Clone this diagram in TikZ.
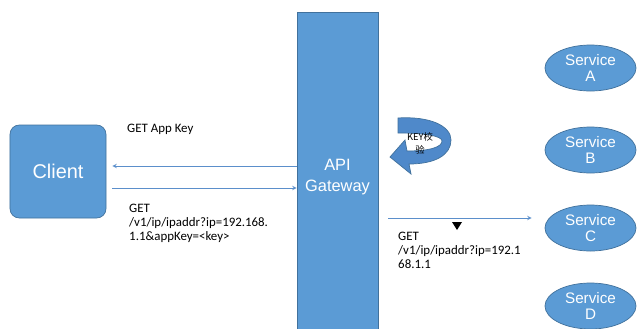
\documentclass[tikz,border=0pt]{standalone}
\usepackage{fontspec}
\setmainfont{Liberation Sans}
\newfontfamily\lblfont{Carlito}
\newfontfamily\cjk{Noto Sans CJK SC}
\usetikzlibrary{shapes,arrows,positioning,calc}
\definecolor{boxblue}{HTML}{5B9BD5}
\definecolor{boxedge}{HTML}{41719C}
\definecolor{linkblue}{HTML}{5B8FCB}
\definecolor{turnblue}{HTML}{4F89CA}

\begin{document}
\begin{tikzpicture}[x=0.03cm, y=-0.03cm, >=stealth,
  block/.style={draw=boxedge, fill=boxblue, text=white, line width=0.6pt},
  svc/.style={block, ellipse, minimum width=2.73cm, minimum height=1.38cm, inner sep=0pt, align=center, font=\fontsize{13}{14}\selectfont},
  link/.style={->, draw=linkblue, line width=0.7pt},
  lbl/.style={anchor=north west, inner sep=0pt, align=left, font=\lblfont\fontsize{11}{12}\selectfont}]
\clip (0,0) rectangle (638,328);
\fill[white] (0,0) rectangle (638,328);

% client and gateway
\node[block, rounded corners=8pt, minimum width=2.88cm, minimum height=2.79cm, font=\fontsize{17}{20}\selectfont] (client) at (58,171.5) {Client};
\node[block, minimum width=2.43cm, minimum height=9.9cm, align=center, font=\fontsize{14}{18}\selectfont] (gw) at (337.5,177) {API\\Gateway};

% services
\node[svc] (svcA) at (590.5,68) {Service\\A};
\node[svc] (svcB) at (590.5,150) {Service\\B};
\node[svc] (svcC) at (590.5,228) {Service\\C};
\node[svc] (svcD) at (590.5,306) {Service\\D};

% requests
\draw[link, shorten >=0.18cm] (gw.west |- 0,166) -- (client.east |- 0,166);
\draw[link, shorten <=0.18cm] (client.east |- 0,188) -- (gw.west |- 0,188);
\draw[link, shorten <=0.3cm, shorten >=0.39cm] (gw.east |- 0,218) -- (svcC.west |- 0,218);

\node[lbl] (getkey) at (127,124) {GET App Key};
\node[lbl] (getreq) at (129,204) {GET\\/v1/ip/ipaddr?ip=192.168.\\1.1\&appKey=<key>};
\node[lbl] (fwdreq) at (398,232) {GET\\/v1/ip/ipaddr?ip=192.1\\68.1.1};

% key check turn arrow
\filldraw[fill=turnblue, draw=boxedge, line width=0.6pt]
  (398,118) .. controls (430,116) and (451,126) .. (451,140)
  .. controls (451,155) and (435,164) .. (409,164)
  -- (411,174) -- (390,157) -- (405,140) -- (407,151)
  .. controls (430,151) and (442,147) .. (442,141)
  .. controls (442,136) and (425,133) .. (398,133) -- cycle;
\node[inner sep=0pt, align=center, font=\cjk\fontsize{8}{11}\selectfont] (keychk) at (420,143) {KEY校\\验};

\fill (452,222) -- (462,222) -- (457,230) -- cycle;
\end{tikzpicture}
\end{document}
